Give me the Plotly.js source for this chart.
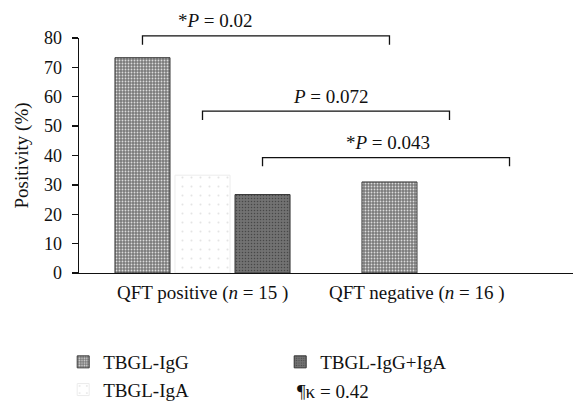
<!DOCTYPE html>
<html><head><meta charset="utf-8">
<script src="https://cdn.plot.ly/plotly-3.0.1.min.js"></script>
<style>html,body{margin:0;padding:0;background:#fff}#chart{width:573px;height:409px}</style>
</head><body><div id="chart"></div>
<script>
// ---- data ----
const categories = ['QFT positive', 'QFT negative'];
const categoryLabels = ['QFT positive (<i>n</i> = 15 )', 'QFT negative (<i>n</i> = 16 )'];
const labelPositions = [0.0, 0.87];
const seriesNames = ['TBGL-IgG', 'TBGL-IgA', 'TBGL-IgG+IgA'];
const iggValues = [73.3, 31.0];
const igaValues = [33.3, 0];
const iggIgaValues = [26.7, 0];
const pTexts = ['*<i>P</i> = 0.02', '<i>P</i> = 0.072', '*<i>P</i> = 0.043'];
const bracketHeights = [80.7, 55.1, 39.3];
const pTextX = [0.053, 0.522, 0.749];
const kappaText = '¶κ = 0.42';

// ---- style ----
const FONT = 'Liberation Serif';
const yMax = 80;
const bargap = 0.271;
const slot = (1 - bargap) / 3;
const tickDrop = 3;

const colors = ['#8a8a8a', '#fdfdfd', '#6c6c6c'];
const lineColors = ['#3a3a3a', '#ececec', '#333333'];
const patterns = [
  {shape: '.', fgcolor: '#dcdcdc', bgcolor: '#7a7a7a', size: 3, solidity: 0.3, fillmode: 'replace'},
  {shape: '.', fgcolor: '#e4e4e4', bgcolor: '#ffffff', size: 9, solidity: 0.04, fillmode: 'replace'},
  {shape: '.', fgcolor: '#474747', bgcolor: '#727272', size: 3, solidity: 0.2, fillmode: 'replace'}
];
const ranks = [1, 3, 2];
const allValues = [iggValues, igaValues, iggIgaValues];

const traces = seriesNames.map((name, i) => ({
  type: 'bar', name: name, x: categories, y: allValues[i],
  marker: {color: colors[i], line: {color: lineColors[i], width: allValues[i].map(v => v > 0 ? 1 : 0)}, pattern: patterns[i]},
  legendrank: ranks[i], hoverinfo: 'skip'
}));

const shapes = [];
const annotations = [];
bracketHeights.forEach((h, k) => {
  const off = (k - 1) * slot;
  const x0 = 0 + off, x1 = 1 + off;
  const yTop = h / yMax, yBot = (h - tickDrop) / yMax;
  shapes.push({type: 'path', xref: 'x', yref: 'paper',
    path: `M ${x0} ${yBot} L ${x0} ${yTop} L ${x1} ${yTop} L ${x1} ${yBot}`,
    line: {color: '#111', width: 1.3}});
  annotations.push({xref: 'x', yref: 'paper', x: pTextX[k], y: yTop, yanchor: 'middle', xanchor: 'center',
    yshift: 15, text: pTexts[k], showarrow: false, font: {family: FONT, size: 19, color: '#111'}});
});
categoryLabels.forEach((t, i) => {
  annotations.push({xref: 'x', yref: 'paper', x: labelPositions[i], y: 0, yanchor: 'middle', xanchor: 'center',
    yshift: -20, text: t, showarrow: false, font: {family: FONT, size: 19, color: '#111'}});
});
annotations.push({xref: 'paper', yref: 'paper', x: (295 - 79) / 494, y: (276 - 396) / 238, xanchor: 'left', yanchor: 'middle',
  text: kappaText, showarrow: false, font: {family: FONT, size: 19, color: '#111'}});

const layout = {
  width: 573, height: 409,
  margin: {l: 79, r: 0, t: 38, b: 133, pad: 0},
  paper_bgcolor: '#fff', plot_bgcolor: '#fff',
  font: {family: FONT, size: 17, color: '#111'},
  barmode: 'group', bargap: bargap, bargroupgap: 0.083,
  xaxis: {type: 'category', range: [-0.5, 1.5], showline: true, linecolor: '#111', linewidth: 1.3,
    ticks: '', showticklabels: false, showgrid: false, zeroline: false, fixedrange: true},
  yaxis: {range: [0, yMax], tick0: 0, dtick: 10, ticks: 'outside', ticklen: 6, tickcolor: '#111', tickwidth: 1.3,
    showline: true, linecolor: '#111', linewidth: 1.3, showgrid: false, zeroline: false,
    tickfont: {family: FONT, size: 18, color: '#111'}, ticklabelstandoff: 6, automargin: false,
    title: {text: 'Positivity (%)', font: {family: FONT, size: 19, color: '#111'}, standoff: 10}},
  showlegend: true,
  legend: {orientation: 'h', x: -0.032, xanchor: 'left', y: -0.30, yanchor: 'top',
    entrywidth: 172, entrywidthmode: 'pixels', traceorder: 'normal',
    font: {family: FONT, size: 19, color: '#111'}, bgcolor: 'rgba(0,0,0,0)'},
  shapes: shapes, annotations: annotations
};
Plotly.newPlot('chart', traces, layout, {staticPlot: true, displayModeBar: false});
</script></body></html>
